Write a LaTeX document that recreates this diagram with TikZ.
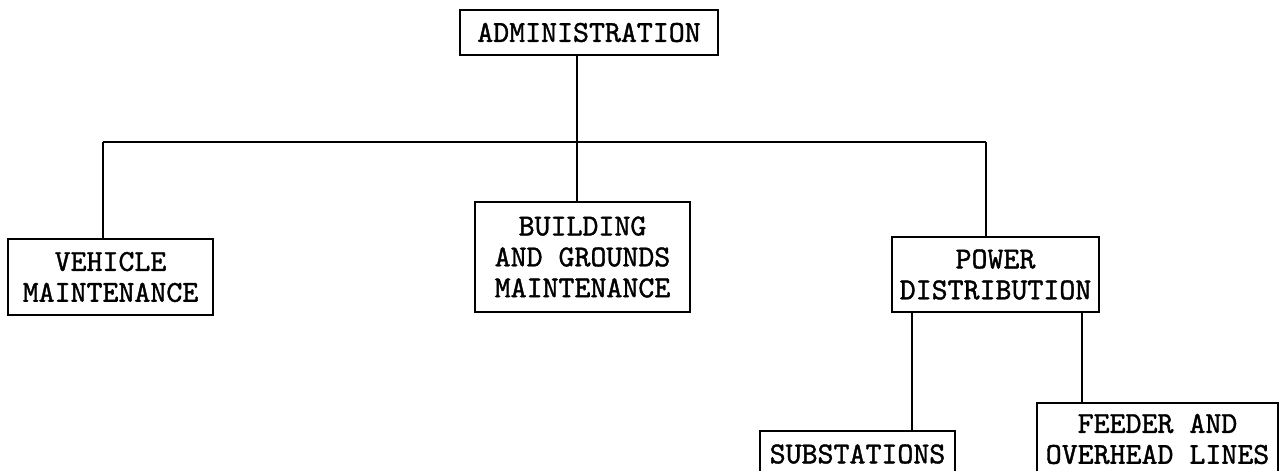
\documentclass[tikz,border=0pt]{standalone}
\usepackage{xcolor}
\usepackage{fontspec}
\newfontfamily\typefont{lmmono10-regular.otf}[FakeBold=1.3]
\usepackage{tikz}
\usetikzlibrary{positioning}
\tikzstyle{unit} = [rectangle, draw=black, line width=1.5pt, inner sep=0pt, align=center, font=\typefont\fontsize{17.3}{17.6}\selectfont]
\tikzstyle{link} = [line width=1.5pt]

\begin{document}
\begin{tikzpicture}
        \useasboundingbox (0,0) rectangle (25.66,-9.40);
        \clip (0,0) rectangle (25.66,-9.40);

        \node [unit, minimum width=5.16cm, minimum height=0.9cm] (admin) at (11.78,-0.65) {ADMINISTRATION};

        \node [unit, minimum width=4.10cm, minimum height=1.52cm] (vehicle) at (2.21,-5.54) {VEHICLE\\MAINTENANCE};
        \node [unit, minimum width=4.30cm, minimum height=2.20cm] (building) at (11.65,-5.14) {BUILDING\\AND GROUNDS\\MAINTENANCE};
        \node [unit, minimum width=4.14cm, minimum height=1.50cm] (power) at (19.91,-5.49) {POWER\\DISTRIBUTION};

        \node [unit, minimum width=3.90cm, minimum height=0.92cm] (subst) at (17.15,-9.08) {SUBSTATIONS};
        \node [unit, minimum width=4.82cm, minimum height=1.44cm] (feeder) at (23.15,-8.78) {FEEDER AND\\OVERHEAD LINES};

        \coordinate (busL) at (2.06,-2.84);
        \coordinate (busM) at (11.54,-2.84);
        \coordinate (busR) at (19.72,-2.84);
        \coordinate (tapS) at (18.24,-7);
        \coordinate (tapF) at (21.64,-7);

        \draw [link] (busL) -- (busR);
        \draw [link] (busM |- admin.south) -- (busM |- building.north);
        \draw [link] (busL) -- (busL |- vehicle.north);
        \draw [link] (busR) -- (busR |- power.north);

        \draw [link] (tapS |- power.south) -- (tapS |- subst.north);
        \draw [link] (tapF |- power.south) -- (tapF |- feeder.north);
    \end{tikzpicture}
\end{document}
